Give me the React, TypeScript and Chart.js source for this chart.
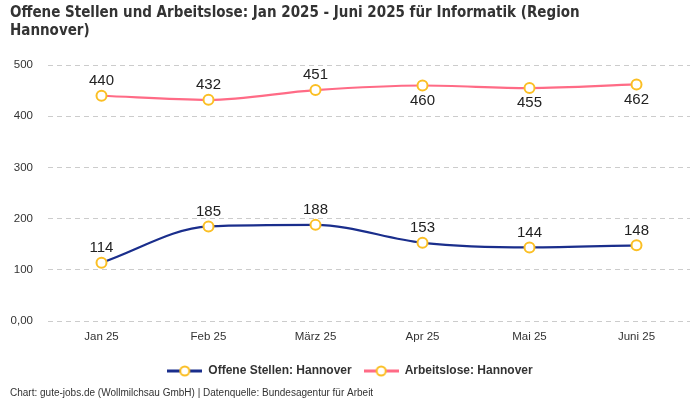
import React, { useEffect, useRef } from "react";
import { Chart, registerables } from "chart.js";

Chart.register(...registerables);

const categories = ["Jan 25", "Feb 25", "März 25", "Apr 25", "Mai 25", "Juni 25"];
const offeneStellen = [114, 185, 188, 153, 144, 148];
const arbeitslose = [440, 432, 451, 460, 455, 462];
const offeneLabelPos = ["top", "top", "top", "top", "top", "top"];
const arbeitsloseLabelPos = ["top", "top", "top", "bottom", "bottom", "bottom"];
const yTicks = [0, 100, 200, 300, 400, 500];

const NAVY = "#1a2e8c";
const PINK = "#ff6b86";
const GOLD = "#fbbf24";

function legendIcon(color: string): HTMLCanvasElement {
  const c = document.createElement("canvas");
  c.width = 35;
  c.height = 14;
  const ctx = c.getContext("2d")!;
  ctx.strokeStyle = color;
  ctx.lineWidth = 3;
  ctx.beginPath();
  ctx.moveTo(0, 7);
  ctx.lineTo(35, 7);
  ctx.stroke();
  ctx.beginPath();
  ctx.arc(17.5, 7, 4.5, 0, Math.PI * 2);
  ctx.fillStyle = "#fff";
  ctx.fill();
  ctx.strokeStyle = GOLD;
  ctx.lineWidth = 2;
  ctx.stroke();
  return c;
}

const labelPlugin = {
  id: "valueLabels",
  afterDatasetsDraw(chart: any) {
    const ctx = chart.ctx;
    ctx.save();
    ctx.font = "15px 'Liberation Sans', Arial, sans-serif";
    ctx.fillStyle = "#222";
    ctx.textAlign = "center";
    ctx.textBaseline = "middle";
    chart.data.datasets.forEach((ds: any, i: number) => {
      const meta = chart.getDatasetMeta(i);
      const pos = ds.labelPos as string[];
      meta.data.forEach((pt: any, j: number) => {
        const v = ds.data[j];
        const dy = pos[j] === "bottom" ? 15 : -15;
        ctx.fillText(String(v), pt.x, pt.y + dy);
      });
    });
    ctx.restore();
  },
};

export default function App() {
  const ref = useRef<HTMLCanvasElement>(null);
  useEffect(() => {
    document.body.style.margin = "0";
    const chart = new Chart(ref.current!, {
      type: "line",
      data: {
        labels: categories,
        datasets: [
          {
            label: "Offene Stellen: Hannover",
            data: offeneStellen,
            borderColor: NAVY,
            backgroundColor: NAVY,
            borderWidth: 2.2,
            cubicInterpolationMode: "monotone",
            pointRadius: 5,
            pointBorderWidth: 2,
            pointBackgroundColor: "#fff",
            pointBorderColor: GOLD,
            labelPos: offeneLabelPos,
          } as any,
          {
            label: "Arbeitslose: Hannover",
            data: arbeitslose,
            borderColor: PINK,
            backgroundColor: PINK,
            borderWidth: 2.2,
            cubicInterpolationMode: "monotone",
            pointRadius: 5,
            pointBorderWidth: 2,
            pointBackgroundColor: "#fff",
            pointBorderColor: GOLD,
            labelPos: arbeitsloseLabelPos,
          } as any,
        ],
      },
      options: {
        animation: false,
        responsive: false,
        layout: { padding: { left: 10, right: 10, top: 0, bottom: 0 } },
        scales: {
          x: {
            offset: true,
            grid: { display: false, drawTicks: false },
            border: { display: false },
            ticks: {
              padding: 9,
              color: "#333",
              font: { family: "'Liberation Sans', Arial, sans-serif", size: 11.5 },
            },
          },
          y: {
            min: 0,
            max: 500,
            afterBuildTicks: (axis: any) => {
              axis.ticks = yTicks.map((v) => ({ value: v }));
            },
            afterFit: (axis: any) => {
              axis.width = 38;
            },
            grid: { color: "#cccccc", drawTicks: false },
            border: { display: false, dash: [5, 4] },
            ticks: {
              padding: 15,
              color: "#333",
              font: { family: "'Liberation Sans', Arial, sans-serif", size: 11.5 },
              callback: (v: any) => (v === 0 ? "0,00" : String(v)),
            },
          },
        },
        plugins: {
          title: {
            display: true,
            align: "start",
            text: [
              "Offene Stellen und Arbeitslose: Jan 2025 - Juni 2025 für Informatik (Region",
              "Hannover)",
            ],
            color: "#333",
            font: { family: "'DejaVu Sans Condensed', sans-serif", size: 15, weight: "bold", lineHeight: 1.2 },
            padding: { top: 4, bottom: 25 },
          },
          subtitle: {
            display: true,
            position: "bottom",
            align: "start",
            text: "Chart: gute-jobs.de (Wollmilchsau GmbH) | Datenquelle: Bundesagentur für Arbeit",
            color: "#333",
            font: { family: "'Liberation Sans', Arial, sans-serif", size: 10 },
            padding: { top: 0, bottom: 1 },
          },
          legend: {
            position: "bottom",
            labels: {
              usePointStyle: true,
              pointStyleWidth: 35,
              color: "#333",
              padding: 12,
              font: { family: "'Liberation Sans', Arial, sans-serif", size: 12, weight: "bold" },
              generateLabels: (ch: any) =>
                ch.data.datasets.map((ds: any, i: number) => ({
                  text: ds.label,
                  pointStyle: legendIcon(ds.borderColor),
                  fillStyle: ds.borderColor,
                  strokeStyle: ds.borderColor,
                  lineWidth: 0,
                  datasetIndex: i,
                  hidden: false,
                  fontColor: "#333",
                })),
            },
          },
          tooltip: { enabled: false },
        },
      },
      plugins: [labelPlugin],
    });
    return () => chart.destroy();
  }, []);
  return (
    <div style={{ width: 700, height: 400 }}>
      <canvas ref={ref} width={700} height={400} />
    </div>
  );
}
